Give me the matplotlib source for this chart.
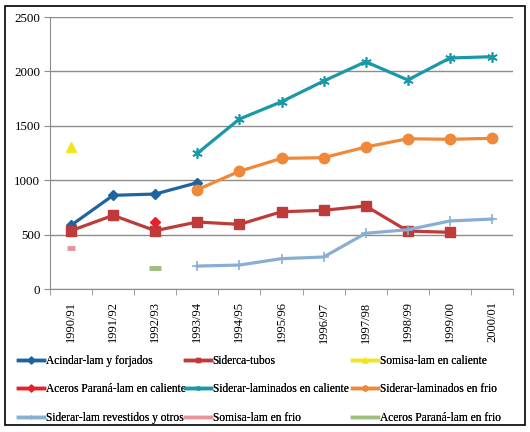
import numpy as np
import matplotlib
matplotlib.use("Agg")
import matplotlib.pyplot as plt
from matplotlib.lines import Line2D
from matplotlib.patches import Rectangle

nan = np.nan
years = ["1990/91", "1991/92", "1992/93", "1993/94", "1994/95", "1995/96",
         "1996/97", "1997/98", "1998/99", "1999/00", "2000/01"]

acindar = [585, 861, 873, 977, nan, nan, nan, nan, nan, nan, nan]
siderca = [536, 677, 536, 616, 594, 710, 723, 763, 533, 521, nan]
somisa_cal = [1308, nan, nan, nan, nan, nan, nan, nan, nan, nan, nan]
aceros_cal = [nan, nan, 613, nan, nan, nan, nan, nan, nan, nan, nan]
siderar_cal = [nan, nan, nan, 1247, 1562, 1721, 1911, 2089, 1921, 2123, 2135]
siderar_frio = [nan, nan, nan, 913, 1082, 1201, 1207, 1305, 1381, 1376, 1385]
siderar_rev = [nan, nan, nan, 211, 220, 279, 294, 512, 545, 625, 643]
somisa_frio = [380, nan, nan, nan, nan, nan, nan, nan, nan, nan, nan]
aceros_frio = [nan, nan, 196, nan, nan, nan, nan, nan, nan, nan, nan]

plt.rcParams['font.family'] = ['Liberation Serif', 'DejaVu Serif']

fig = plt.figure(figsize=(5.3, 4.32), dpi=100)
ax = fig.add_axes([50/530, 1-289/432, 463/530, 272/432])
x = np.arange(len(years))

series = [
    ("Acindar-lam y forjados", acindar, "#1F64A0", "D", 5.0, {}),
    ("Siderca-tubos", siderca, "#BE3B3A", "s", 7.5, {}),
    ("Somisa-lam en caliente", somisa_cal, "#F2E51E", "^", 7.5, {}),
    ("Aceros Paraná-lam en caliente", aceros_cal, "#E8202E", "D", 5.5, {}),
    ("Siderar-laminados en caliente", siderar_cal, "#1A98A8", (6, 2, 0), 7.5, {"mew": 1.2}),
    ("Siderar-laminados en frio", siderar_frio, "#F0883A", "o", 7.5, {}),
    ("Siderar-lam revestidos y otros", siderar_rev, "#8AAED3", "+", 7, {"mew": 1.2}),
    ("Somisa-lam en frio", somisa_frio, "#E8949A", "_", 6, {"mew": 3.5}),
    ("Aceros Paraná-lam en frio", aceros_frio, "#9EBE7C", "_", 9, {"mew": 3.5}),
]

handles = []
for label, vals, col, mk, ms, kw in series:
    ax.plot(x, vals, color=col, lw=2.3, marker=mk, ms=ms, mfc=col, mec=col, zorder=3, **kw)
    handles.append(Line2D([0], [0], color=col, lw=2.5, marker=mk, ms=3.5, mfc=col, mec=col))

ax.set_xlim(-0.5, len(years) - 0.5)
ax.set_ylim(0, 2500)
ax.set_yticks(np.arange(0, 2501, 500))
ax.yaxis.grid(True, color="#8C8C8C", lw=1.0)
ax.set_axisbelow(True)
ax.set_xticks(x)
ax.set_xticklabels(years, rotation=90, fontsize=9)
ax.set_xticks(np.arange(-0.5, len(years), 1), minor=True)
ax.tick_params(axis="x", which="major", length=0, pad=9)
ax.tick_params(axis="x", which="minor", length=4, color="#8C8C8C")
ax.tick_params(axis="y", length=4, color="#8C8C8C", labelsize=9.4, pad=3)
for s in ["top", "right"]:
    ax.spines[s].set_visible(False)
for s in ["left", "bottom"]:
    ax.spines[s].set_color("#8C8C8C")

cols = [[0, 3, 6], [1, 4, 7], [2, 5, 8]]
xs = [13/530, 180/530, 347/530]
for ci, idxs in enumerate(cols):
    leg = fig.legend([handles[i] for i in idxs], [series[i][0] for i in idxs],
                     loc="upper left", bbox_to_anchor=(xs[ci], 1-350/432),
                     frameon=False, fontsize=8.3, handlelength=2.3,
                     handletextpad=0.12, labelspacing=1.45, borderaxespad=0)
    fig.add_artist(leg)

fig.add_artist(Rectangle((5/530, 1-425/432), 520/530, 419/432, transform=fig.transFigure,
                         fill=False, edgecolor="black", lw=1.2))

fig.savefig("out.png", dpi=100)
